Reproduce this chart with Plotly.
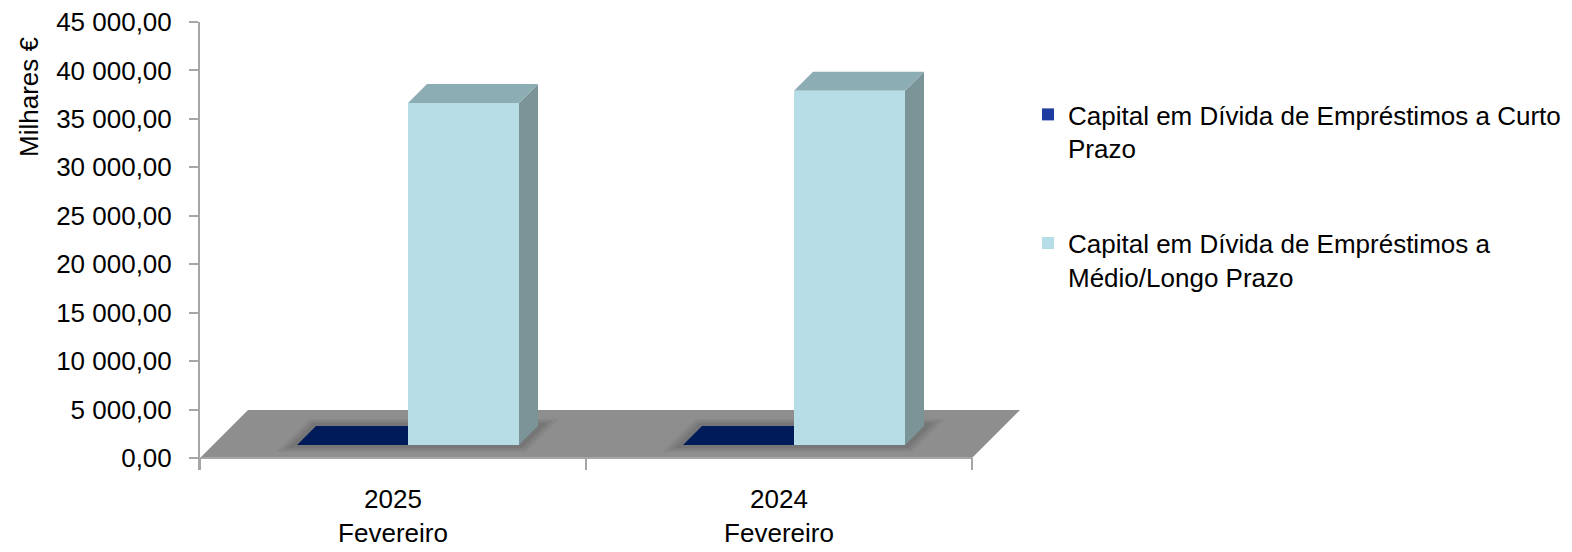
import plotly.graph_objects as go

# ---------------- data ----------------
categories = ["2025<br>Fevereiro", "2024<br>Fevereiro"]
series_names = [
    "Capital em Dívida de Empréstimos a Curto<br>Prazo",
    "Capital em Dívida de Empréstimos a<br>Médio/Longo Prazo",
]
curto_prazo = [0.0, 0.0]
medio_longo_prazo = [35300.0, 36550.0]
y_tick_values = [0, 5000, 10000, 15000, 20000, 25000, 30000, 35000, 40000, 45000]
y_tick_labels = ["0,00", "5 000,00", "10 000,00", "15 000,00", "20 000,00",
                 "25 000,00", "30 000,00", "35 000,00", "40 000,00", "45 000,00"]
y_title = "Milhares €"

# ---------------- styles / geometry ----------------
W, H = 1572, 552
PL, PR, PT, PB = 200, 1025, 22, 470
Y0_PX = 458
YMAX = 45000
CAT_PX = 386
FONT = "Liberation Sans, Arial, sans-serif"
FS = 26

y_per_px = YMAX / (Y0_PX - PT)
x_per_px = 1.0 / CAT_PX
x_range = [-0.5, -0.5 + (PR - PL) / CAT_PX]
y_range = [-(PB - Y0_PX) * y_per_px, YMAX]

FLOOR_D = 48
BAR_D1, BAR_D2 = 13, 32
BAR_W = 111 * x_per_px
PAIR_SHIFT = 2 * x_per_px

front_colors = ["#1E3CA0", "#B6DCE6"]
side_colors = ["#00123F", "#7A9498"]
top_colors = ["#001B5A", "#8DADB4"]
FLOOR_COLOR = "#8E8E8E"
AXIS_COLOR = "#A6A6A6"


def proj(x, v, d):
    return x + d * x_per_px, v + d * y_per_px


def path(points):
    return "M " + " L ".join(f"{px},{py}" for px, py in points) + " Z"


shapes = []
n = len(categories)
xs = list(range(n))

# floor
fl = [proj(-0.5, 0, 0), proj(n - 0.5, 0, 0), proj(n - 0.5, 0, FLOOR_D), proj(-0.5, 0, FLOOR_D)]
shapes.append(dict(type="path", path=path(fl), xref="x", yref="y", layer="below",
                   fillcolor=FLOOR_COLOR, line=dict(width=0)))

series = [curto_prazo, medio_longo_prazo]

# soft shadows on floor around bar footprints
for i in xs:
    xl = i + PAIR_SHIFT - BAR_W
    xr = i + PAIR_SHIFT + BAR_W
    for pad, alpha in [(14, 0.06), (10, 0.07), (6, 0.09)]:
        pts = [proj(xl - pad * x_per_px, 0, BAR_D1 - pad * 0.5),
               proj(xr + pad * x_per_px, 0, BAR_D1 - pad * 0.5),
               proj(xr + pad * x_per_px, 0, BAR_D2 + pad * 0.5),
               proj(xl - pad * x_per_px, 0, BAR_D2 + pad * 0.5)]
        shapes.append(dict(type="path", path=path(pts), xref="x", yref="y", layer="below",
                           fillcolor=f"rgba(30,30,30,{alpha})", line=dict(width=0)))

# side and top faces
for k, vals in enumerate(series):
    for i, v in zip(xs, vals):
        xl = i + PAIR_SHIFT + (k - 1) * BAR_W
        xr = xl + BAR_W
        side = [proj(xr, 0, BAR_D1), proj(xr, v, BAR_D1), proj(xr, v, BAR_D2), proj(xr, 0, BAR_D2)]
        top = [proj(xl, v, BAR_D1), proj(xr, v, BAR_D1), proj(xr, v, BAR_D2), proj(xl, v, BAR_D2)]
        if v > 0:
            shapes.append(dict(type="path", path=path(side), xref="x", yref="y", layer="below",
                               fillcolor=side_colors[k], line=dict(width=0)))
        shapes.append(dict(type="path", path=path(top), xref="x", yref="y", layer="below",
                           fillcolor=top_colors[k], line=dict(width=0)))

# x axis line along floor front edge and boundary ticks
shapes.append(dict(type="line", x0=-0.5, x1=n - 0.5, y0=0, y1=0, xref="x", yref="y",
                   layer="below", line=dict(color=AXIS_COLOR, width=2)))
for b in range(n + 1):
    shapes.append(dict(type="line", x0=b - 0.5, x1=b - 0.5, y0=0, y1=y_range[0],
                       xref="x", yref="y", layer="below",
                       line=dict(color=AXIS_COLOR, width=2)))

fig = go.Figure()
for k, vals in enumerate(series):
    fig.add_trace(go.Bar(
        x=[i + PAIR_SHIFT + (k - 0.5) * BAR_W + BAR_D1 * x_per_px for i in xs],
        y=vals,
        base=BAR_D1 * y_per_px,
        width=BAR_W,
        name=series_names[k],
        marker=dict(color=front_colors[k], line=dict(width=0)),
        legendgroup=f"g{k}",
        hoverinfo="skip",
    ))

fig.update_layout(
    width=W, height=H,
    margin=dict(l=PL, r=W - PR, t=PT, b=H - PB, autoexpand=False),
    paper_bgcolor="white", plot_bgcolor="white",
    shapes=shapes,
    barmode="overlay",
    showlegend=True,
    legend=dict(
        x=(1028 - PL) / (PR - PL), y=1 - (91 - PT) / (PB - PT),
        xanchor="left", yanchor="top",
        font=dict(family=FONT, size=FS, color="black"),
        valign="top", tracegroupgap=58, traceorder="grouped",
        bgcolor="rgba(0,0,0,0)",
    ),
    xaxis=dict(
        range=x_range, tickvals=xs, ticktext=categories, showline=False,
        showgrid=False, zeroline=False, ticks="", automargin=False,
        tickfont=dict(family=FONT, size=FS, color="black"),
        ticklabelstandoff=11,
    ),
    yaxis=dict(
        range=y_range, tickvals=y_tick_values, ticktext=y_tick_labels,
        showline=True, linecolor=AXIS_COLOR, linewidth=2, automargin=False,
        ticks="outside", ticklen=9, tickwidth=2, tickcolor=AXIS_COLOR,
        showgrid=False, zeroline=False,
        tickfont=dict(family=FONT, size=FS, color="black"),
        ticklabelstandoff=12,
    ),
    annotations=[dict(
        text=y_title, textangle=-90, xref="paper", yref="paper",
        x=(29 - PL) / (PR - PL), y=1 - (97 - PT) / (PB - PT),
        xanchor="center", yanchor="middle", showarrow=False,
        font=dict(family=FONT, size=FS, color="black"),
    )],
)

fig.write_html("out.html")
